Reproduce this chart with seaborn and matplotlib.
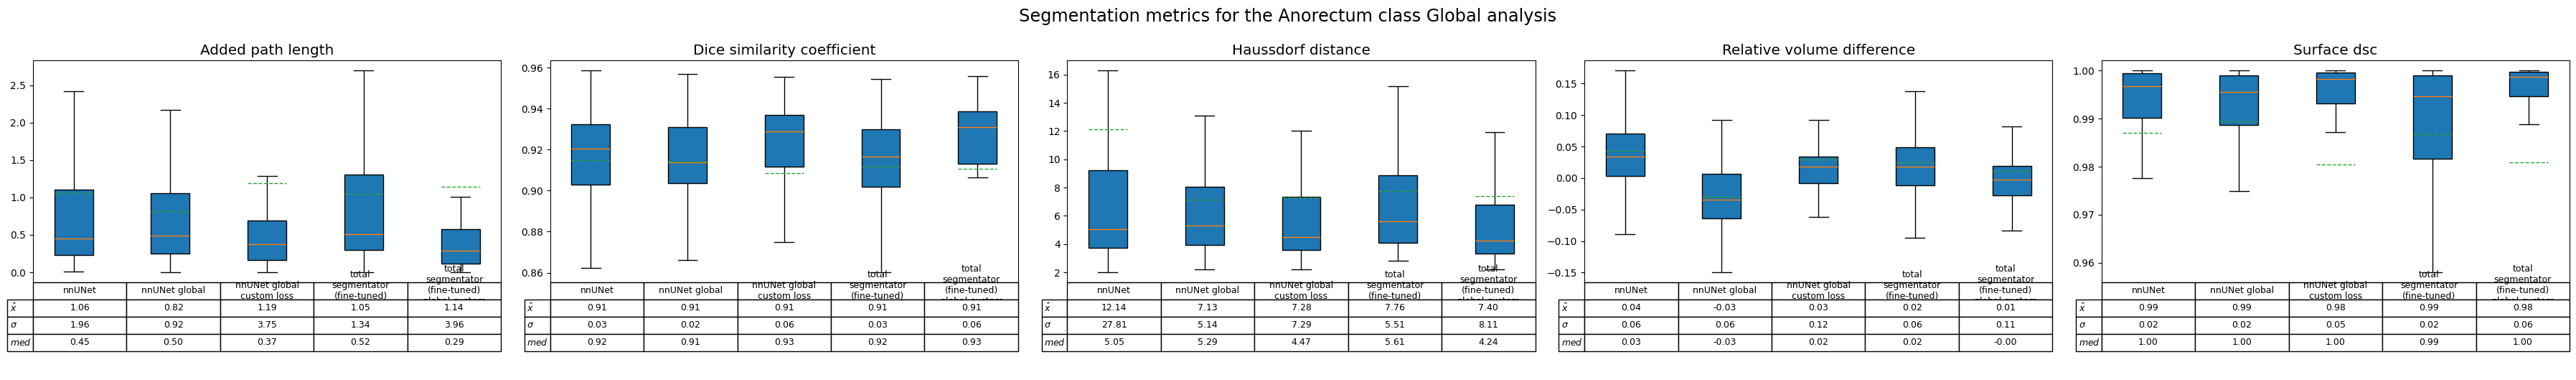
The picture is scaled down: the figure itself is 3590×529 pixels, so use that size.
import numpy as np
import pandas as pd
import seaborn as sns
import matplotlib.pyplot as plt

MODELS = ["nnUNet", "nnUNet global", "nnUNet global custom loss",
          "total segmentator (fine-tuned)",
          "total segmentator (fine-tuned) global custom loss"]
COL_LABELS = ["nnUNet", "nnUNet global", "nnUNet global\ncustom loss",
              "total\nsegmentator\n(fine-tuned)\n",
              "total\nsegmentator\n(fine-tuned)\nglobal custom\nloss"]
ROW_LABELS = [r"$\hat{x}$", r"$\sigma$", r"$med$"]
SUPTITLE = "Segmentation metrics for the Anorectum class Global analysis"

# box summaries per model: whisker low, q1, median, q3, whisker high
APL_BOX = [[0.013, 0.234, 0.455, 1.104, 2.42],
           [0.0, 0.25, 0.49, 1.06, 2.175],
           [0.0, 0.162, 0.377, 0.695, 1.29],
           [0.0, 0.30, 0.513, 1.31, 2.70],
           [0.0, 0.117, 0.29, 0.578, 1.01]]
APL_MEAN = [1.06, 0.82, 1.19, 1.05, 1.14]
APL_STD = [1.96, 0.92, 3.75, 1.34, 3.96]
APL_MED = [0.45, 0.50, 0.37, 0.52, 0.29]

DSC_BOX = [[0.8624, 0.903, 0.9204, 0.9323, 0.9586],
           [0.8661, 0.9037, 0.9138, 0.931, 0.9568],
           [0.875, 0.9117, 0.929, 0.9369, 0.9555],
           [0.8602, 0.9019, 0.9166, 0.9298, 0.9545],
           [0.9065, 0.913, 0.931, 0.9386, 0.9557]]
DSC_MEAN_LINE = [0.9149, 0.914, 0.9086, 0.9117, 0.9106]
DSC_MEAN = [0.91, 0.91, 0.91, 0.91, 0.91]
DSC_STD = [0.03, 0.02, 0.06, 0.03, 0.06]
DSC_MED = [0.92, 0.91, 0.93, 0.92, 0.93]

HD_BOX = [[2.0, 3.73, 5.05, 9.22, 16.29],
          [2.22, 3.94, 5.29, 8.06, 13.10],
          [2.22, 3.60, 4.47, 7.35, 12.04],
          [2.82, 4.09, 5.61, 8.88, 15.18],
          [2.2, 3.34, 4.24, 6.77, 11.92]]
HD_MEAN = [12.14, 7.13, 7.28, 7.76, 7.40]
HD_STD = [27.81, 5.14, 7.29, 5.51, 8.11]
HD_MED = [5.05, 5.29, 4.47, 5.61, 4.24]

RVD_BOX = [[-0.0888, 0.0035, 0.0338, 0.0708, 0.1708],
           [-0.1496, -0.0638, -0.0342, 0.0069, 0.0923],
           [-0.0615, -0.0081, 0.0181, 0.0342, 0.0923],
           [-0.0946, -0.0119, 0.0181, 0.0488, 0.1377],
           [-0.0831, -0.0273, -0.0023, 0.0192, 0.0819]]
RVD_MEAN_LINE = [0.0431, -0.030, 0.0296, 0.025, 0.0112]
RVD_MEAN = [0.04, -0.03, 0.03, 0.02, 0.01]
RVD_STD = [0.06, 0.06, 0.12, 0.06, 0.11]
RVD_MED = [0.03, -0.03, 0.02, 0.02, -0.0]

SDSC_BOX = [[0.97763, 0.99013, 0.99673, 0.99945, 1.0],
            [0.97496, 0.98866, 0.99557, 0.99894, 1.0],
            [0.9872, 0.9931, 0.99824, 0.9996, 1.0],
            [0.95804, 0.98161, 0.99466, 0.99894, 1.0],
            [0.98877, 0.99461, 0.99869, 0.99975, 1.0]]
SDSC_MEAN_LINE = [0.98705, 0.98942, 0.98045, 0.98675, 0.98091]
SDSC_MEAN = [0.99, 0.99, 0.98, 0.99, 0.98]
SDSC_STD = [0.02, 0.02, 0.05, 0.02, 0.06]
SDSC_MED = [1.00, 1.00, 1.00, 0.99, 1.00]

METRICS = [
    ("Added path length", APL_BOX, APL_MEAN, APL_MEAN, APL_STD, APL_MED),
    ("Dice similarity coefficient", DSC_BOX, DSC_MEAN_LINE, DSC_MEAN, DSC_STD, DSC_MED),
    ("Haussdorf distance", HD_BOX, HD_MEAN, HD_MEAN, HD_STD, HD_MED),
    ("Relative volume difference", RVD_BOX, RVD_MEAN_LINE, RVD_MEAN, RVD_STD, RVD_MED),
    ("Surface dsc", SDSC_BOX, SDSC_MEAN_LINE, SDSC_MEAN, SDSC_STD, SDSC_MED),
]

BOX_WIDTH = 0.4


def to_long(box):
    rows = []
    for model, values in zip(MODELS, box):
        for v in values:
            rows.append({"model": model, "value": v})
    return pd.DataFrame(rows)


def draw_metric(ax, title, box, mean_line, mean_tab, std_tab, med_tab):
    df = to_long(box)
    sns.boxplot(data=df, x="model", y="value", order=MODELS, ax=ax,
                color="C0", saturation=1, width=BOX_WIDTH, whis=(0, 100),
                showfliers=False, linecolor="black", linewidth=1,
                medianprops={"color": "C1"})
    xs = np.arange(len(MODELS))
    ax.hlines(mean_line, xs - BOX_WIDTH / 2, xs + BOX_WIDTH / 2,
              colors="C2", linestyles="--", linewidth=1, zorder=4)
    ax.set_title(title, fontsize="x-large")
    ax.set_xticks([])
    ax.set_xlabel("")
    ax.set_ylabel("")

    cell_text = [[f"{v:.2f}" for v in row] for row in (mean_tab, std_tab, med_tab)]
    table = ax.table(cellText=cell_text, rowLabels=ROW_LABELS,
                     colLabels=COL_LABELS, cellLoc="center", loc="bottom")
    table.auto_set_font_size(False)
    table.set_fontsize(9)
    table.scale(1, 1.89)


def main():
    fig, axes = plt.subplots(1, 5, figsize=(35.9, 5.29), dpi=100)
    for ax, (title, box, mean_line, mean_tab, std_tab, med_tab) in zip(axes, METRICS):
        draw_metric(ax, title, box, mean_line, mean_tab, std_tab, med_tab)
    fig.suptitle(SUPTITLE, fontsize="xx-large")
    fig.subplots_adjust(left=0.0128, right=0.9975, top=0.841, bottom=0.257, wspace=0.105)
    fig.savefig("out.png", dpi=100)


if __name__ == "__main__":
    main()
